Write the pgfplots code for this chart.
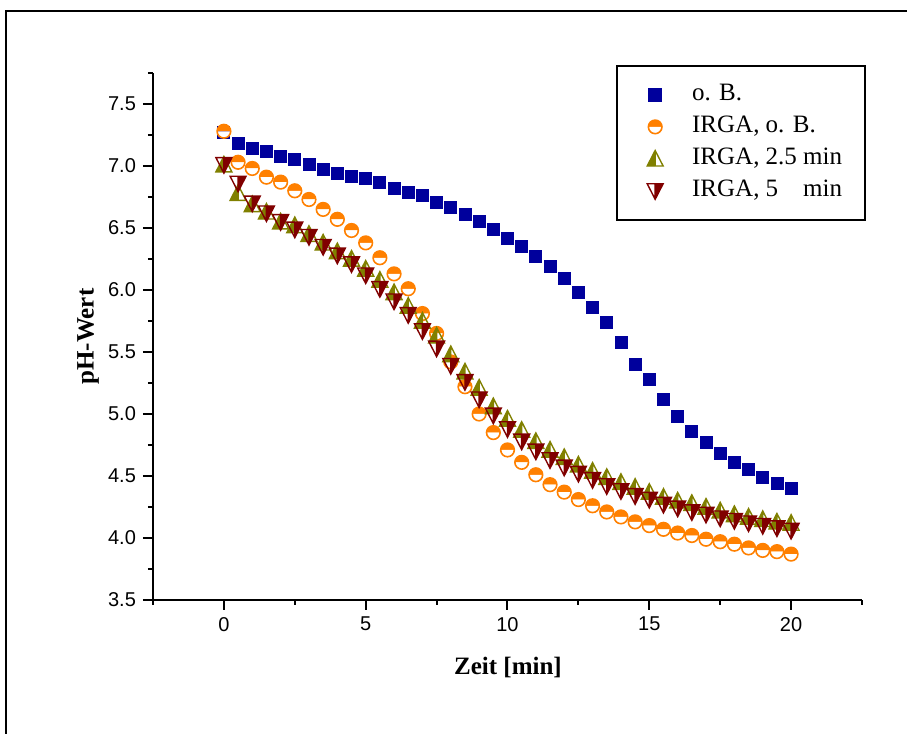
\documentclass[border=0pt]{standalone}
\usepackage{fontspec}
\setmainfont{Liberation Serif}
\newfontfamily\arial{Liberation Sans}
\usepackage{pgfplots}
\pgfplotsset{compat=1.18}
\usetikzlibrary{plotmarks}
\definecolor{obBlue}{HTML}{00009C}
\definecolor{irgaOrange}{HTML}{FF8000}
\definecolor{irgaOlive}{HTML}{808000}
\definecolor{irgaRed}{HTML}{800000}

% half-filled up triangle (left half filled)
\pgfdeclareplotmark{halftriup}{%
  \pgfpathmoveto{\pgfqpoint{0pt}{\pgfplotmarksize}}%
  \pgfpathlineto{\pgfqpoint{-0.95\pgfplotmarksize}{-0.85\pgfplotmarksize}}%
  \pgfpathlineto{\pgfqpoint{0pt}{-0.85\pgfplotmarksize}}%
  \pgfpathclose
  \pgfusepathqfill
  \pgfpathmoveto{\pgfqpoint{0pt}{\pgfplotmarksize}}%
  \pgfpathlineto{\pgfqpoint{-0.95\pgfplotmarksize}{-0.85\pgfplotmarksize}}%
  \pgfpathlineto{\pgfqpoint{0.95\pgfplotmarksize}{-0.85\pgfplotmarksize}}%
  \pgfpathclose
  \pgfpathmoveto{\pgfqpoint{0pt}{\pgfplotmarksize}}%
  \pgfpathlineto{\pgfqpoint{0pt}{-0.85\pgfplotmarksize}}%
  \pgfusepathqstroke
}
% half-filled down triangle (right half filled)
\pgfdeclareplotmark{halftridown}{%
  \pgfpathmoveto{\pgfqpoint{0pt}{-\pgfplotmarksize}}%
  \pgfpathlineto{\pgfqpoint{0.95\pgfplotmarksize}{0.85\pgfplotmarksize}}%
  \pgfpathlineto{\pgfqpoint{0pt}{0.85\pgfplotmarksize}}%
  \pgfpathclose
  \pgfusepathqfill
  \pgfpathmoveto{\pgfqpoint{0pt}{-\pgfplotmarksize}}%
  \pgfpathlineto{\pgfqpoint{0.95\pgfplotmarksize}{0.85\pgfplotmarksize}}%
  \pgfpathlineto{\pgfqpoint{-0.95\pgfplotmarksize}{0.85\pgfplotmarksize}}%
  \pgfpathclose
  \pgfpathmoveto{\pgfqpoint{0pt}{-\pgfplotmarksize}}%
  \pgfpathlineto{\pgfqpoint{0pt}{0.85\pgfplotmarksize}}%
  \pgfusepathqstroke
}

\pgfplotstableread{
t    ob    irga   irga25  irga5
0.0  7.27  7.28   7.01    7.01
0.5  7.18  7.03   6.78    6.86
1.0  7.14  6.98   6.69    6.70
1.5  7.12  6.91   6.63    6.62
2.0  7.08  6.87   6.55    6.55
2.5  7.05  6.80   6.52    6.49
3.0  7.01  6.73   6.45    6.43
3.5  6.97  6.65   6.38    6.35
4.0  6.94  6.57   6.31    6.28
4.5  6.92  6.48   6.25    6.21
5.0  6.90  6.38   6.17    6.12
5.5  6.87  6.26   6.08    6.01
6.0  6.82  6.13   5.98    5.91
6.5  6.79  6.01   5.87    5.80
7.0  6.76  5.81   5.75    5.67
7.5  6.71  5.65   5.63    5.53
8.0  6.67  5.42   5.48    5.39
8.5  6.61  5.22   5.34    5.26
9.0  6.55  5.00   5.21    5.12
9.5  6.49  4.85   5.06    4.99
10.0 6.42  4.71   4.96    4.88
10.5 6.35  4.61   4.87    4.78
11.0 6.27  4.51   4.78    4.70
11.5 6.19  4.43   4.71    4.63
12.0 6.09  4.37   4.65    4.57
12.5 5.98  4.31   4.59    4.52
13.0 5.86  4.26   4.54    4.47
13.5 5.74  4.21   4.49    4.42
14.0 5.58  4.17   4.45    4.38
14.5 5.40  4.13   4.41    4.34
15.0 5.28  4.10   4.37    4.31
15.5 5.12  4.07   4.33    4.27
16.0 4.98  4.04   4.30    4.24
16.5 4.86  4.02   4.28    4.21
17.0 4.77  3.99   4.25    4.19
17.5 4.68  3.97   4.22    4.16
18.0 4.61  3.95   4.19    4.14
18.5 4.55  3.92   4.17    4.12
19.0 4.49  3.90   4.15    4.10
19.5 4.44  3.89   4.13    4.08
20.0 4.40  3.87   4.12    4.06
}\phdata

\begin{document}
\begin{tikzpicture}
\useasboundingbox (-76.5pt,-67pt) rectangle (377pt,300pt);
\draw[line width=0.6pt] (-73.5pt,-80pt) -- (-73.5pt,294.5pt) -- (390pt,294.5pt);
\begin{axis}[
  at={(0,0)}, anchor=south west,
  scale only axis,
  width=354.5pt, height=263.5pt,
  xmin=-2.5, xmax=22.5,
  ymin=3.5, ymax=7.75,
  axis x line*=bottom, axis y line*=left,
  axis line style={line width=1pt, -},
  tick align=outside,
  major tick length=5pt, minor tick length=2.5pt,
  every tick/.style={black, line width=1pt},
  xtick={0,5,10,15,20},
  minor xtick={-2.5,2.5,7.5,12.5,17.5,22.5},
  ytick={3.5,4.0,...,7.5},
  minor ytick={3.75,4.25,...,7.75},
  yticklabel style={/pgf/number format/.cd, fixed, fixed zerofill, precision=1},
  /pgf/number format/assume math mode=true,
  tick label style={font=\arial\fontsize{10}{12}\selectfont},
  xlabel={\textbf{Zeit [min]}},
  ylabel={\textbf{pH-Wert}},
  every axis x label/.style={at={(axis description cs:0.5007,-0.129)}, anchor=center,
    font=\fontsize{12.5}{15}\selectfont},
  every axis y label/.style={at={(axis description cs:-0.0917,0.5)}, anchor=center, rotate=90,
    font=\fontsize{12.5}{15}\selectfont},
  legend image code/.code={%
    \path[draw=none, fill=none] (-9pt,0pt) (5pt,0pt);
    \draw[#1] plot coordinates {(0pt,0pt)};
  },
  legend style={
    at={(rel axis cs:1.0056,1.015)}, anchor=north east,
    draw=black, line width=0.8pt, fill=white,
    inner xsep=10pt, inner ysep=7pt,
    font=\fontsize{12.5}{15}\selectfont,
    row sep=1pt,
    nodes={text height=9pt, text depth=3pt, inner sep=1.5pt},
    /tikz/every odd column/.append style={column sep=12pt},
  },
  legend cell align=left,
  clip=false,
]
\addplot[only marks, mark=square*, mark size=3pt, color=obBlue, fill=obBlue]
  table[x=t, y=ob] {\phdata};
\addlegendentry{o. B.}
\addplot[only marks, mark=halfcircle*, mark size=3.4pt, color=irgaOrange,
  mark options={fill=irgaOrange, line width=0.8pt}]
  table[x=t, y=irga] {\phdata};
\addlegendentry{IRGA, o. B.}
\addplot[only marks, mark=halftriup, mark size=4.2pt, color=irgaOlive,
  mark options={fill=irgaOlive, line width=0.7pt}]
  table[x=t, y=irga25] {\phdata};
\addlegendentry{IRGA, 2.5 min}
\addplot[only marks, mark=halftridown, mark size=4.2pt, color=irgaRed,
  mark options={fill=irgaRed, line width=0.7pt}]
  table[x=t, y=irga5] {\phdata};
\addlegendentry{IRGA, 5\ \ \ \ min}
\end{axis}
\end{tikzpicture}
\end{document}
